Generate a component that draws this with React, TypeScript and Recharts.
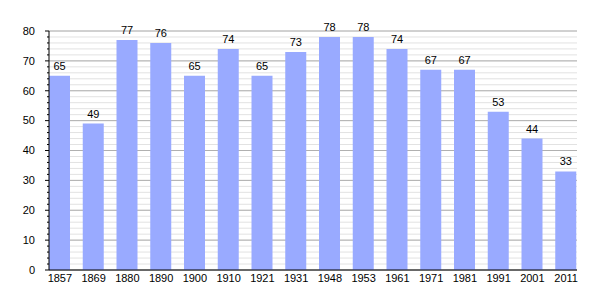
import { BarChart, Bar, XAxis, YAxis, CartesianGrid, LabelList } from "recharts";

const years = ["1857", "1869", "1880", "1890", "1900", "1910", "1921", "1931", "1948", "1953", "1961", "1971", "1981", "1991", "2001", "2011"];
const population = [65, 49, 77, 76, 65, 74, 65, 73, 78, 78, 74, 67, 67, 53, 44, 33];
const majorTicks = [0, 10, 20, 30, 40, 50, 60, 70, 80];
const minorTicks = [0, 2, 4, 6, 8, 10, 12, 14, 16, 18, 20, 22, 24, 26, 28, 30, 32, 34, 36, 38, 40, 42, 44, 46, 48, 50, 52, 54, 56, 58, 60, 62, 64, 66, 68, 70, 72, 74, 76, 78, 80];

const data = years.map((year, i) => ({ year, value: population[i] }));

const font = "'Liberation Sans', Arial, sans-serif";

// y tick: long line + label on multiples of 10, short line otherwise
function YTick(props: any) {
    const { x, y, payload } = props;
    const major = payload.value % 10 === 0;
    return (
        <g>
            <line x1={x - (major ? 4 : 2)} x2={x} y1={y} y2={y} stroke="#000" strokeWidth={1} />
            {major && (
                <text x={x - 14} y={y} dy="0.35em" textAnchor="end" fontSize={11} fontFamily={font} fill="#000">
                    {payload.value}
                </text>
            )}
        </g>
    );
}

export default function App() {
    return (
        <div style={{ position: "absolute", left: 0, top: 0, background: "#fff" }}>
            <BarChart
                width={605}
                height={300}
                data={data}
                margin={{ top: 31, right: 28, bottom: 0, left: 0 }}
            >
                <CartesianGrid vertical={false} horizontalValues={minorTicks} stroke="#e2e2e2" />
                <CartesianGrid vertical={false} horizontalValues={majorTicks} stroke="#b0b0b0" />
                <XAxis
                    dataKey="year"
                    height={30}
                    padding={{ left: -6, right: -6 }}
                    tickLine={false}
                    tickSize={0}
                    tickMargin={4}
                    axisLine={{ stroke: "#000" }}
                    interval={0}
                    tick={{ fontSize: 11, fontFamily: font, fill: "#000" }}
                />
                <YAxis
                    width={49}
                    domain={[0, 80]}
                    ticks={minorTicks}
                    interval={0}
                    tickLine={false}
                    tickSize={0}
                    tickMargin={0}
                    axisLine={{ stroke: "#000" }}
                    tick={<YTick />}
                />
                <Bar dataKey="value" fill="#99aaff" barSize={21} isAnimationActive={false}>
                    <LabelList
                        dataKey="value"
                        position="top"
                        offset={6}
                        fontSize={11}
                        fontFamily={font}
                        fill="#000"
                    />
                </Bar>
            </BarChart>
        </div>
    );
}
